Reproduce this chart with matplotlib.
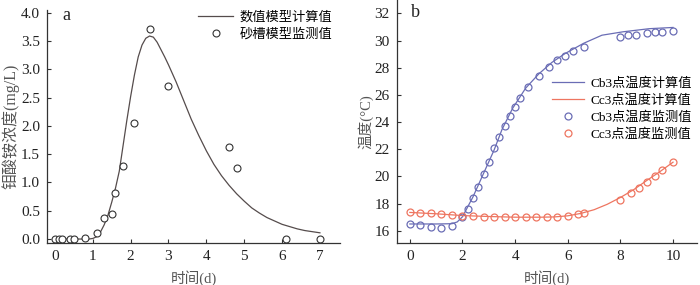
import matplotlib
matplotlib.use("Agg")
import matplotlib.pyplot as plt

plt.rcParams["font.family"] = ["Liberation Serif", "Noto Sans CJK SC"]
plt.rcParams["font.size"] = 11
plt.rcParams["axes.unicode_minus"] = False

# panel a : concentration (mg/L)
time_a_obs = [0, 0.1, 0.2, 0.4, 0.5, 0.8, 1.1, 1.3, 1.5, 1.6, 1.8, 2.1, 2.5, 3.0, 4.6, 4.8, 6.1, 7.0]
conc_obs = [0, 0, 0, 0, 0, 0.01, 0.11, 0.37, 0.45, 0.81, 1.30, 2.05, 3.72, 2.71, 1.62, 1.26, 0.0, 0.0]

time_a_model = [0, 0.5, 0.9, 1.0, 1.1, 1.2, 1.3, 1.4, 1.5, 1.6, 1.7, 1.8, 1.9, 2.0, 2.1, 2.2,
                2.3, 2.4, 2.5, 2.6, 2.7, 2.8, 2.9, 3.0, 3.2, 3.4, 3.6, 3.8, 4.0, 4.2, 4.4,
                4.6, 4.8, 5.0, 5.2, 5.4, 5.6, 5.8, 6.0, 6.2, 6.4, 6.6, 6.8, 7.0]
conc_model = [0, 0, 0, 0.01, 0.04, 0.12, 0.25, 0.42, 0.65, 0.9, 1.2, 1.65, 2.1, 2.52, 2.9, 3.22,
              3.43, 3.55, 3.59, 3.57, 3.48, 3.35, 3.22, 3.08, 2.78, 2.45, 2.12, 1.83, 1.56, 1.32, 1.12,
              0.95, 0.80, 0.67, 0.55, 0.46, 0.38, 0.32, 0.26, 0.22, 0.18, 0.15, 0.13, 0.11]

# panel b : temperature
time_cb3_obs = [0, 0.4, 0.8, 1.2, 1.6, 2.0, 2.2, 2.4, 2.6, 2.8, 3.0, 3.2, 3.4, 3.6, 3.8, 4.0,
                4.2, 4.5, 4.9, 5.3, 5.6, 5.9, 6.2, 6.6, 8.0, 8.3, 8.6, 9.0, 9.3, 9.6, 10.0]
temp_cb3_obs = [16.49, 16.4, 16.3, 16.22, 16.32, 17.03, 17.6, 18.4, 19.24, 20.2, 21.08, 22.06,
                22.9, 23.75, 24.47, 25.13, 25.74, 26.55, 27.39, 28.07, 28.54, 28.9, 29.2, 29.55,
                30.26, 30.38, 30.43, 30.55, 30.6, 30.67, 30.72]

time_cc3_obs = [0, 0.4, 0.8, 1.2, 1.6, 2.0, 2.4, 2.8, 3.2, 3.6, 4.0, 4.4, 4.8, 5.2, 5.6, 6.0,
                6.4, 6.6, 8.0, 8.4, 8.7, 9.0, 9.3, 9.6, 10.0]
temp_cc3_obs = [17.4, 17.33, 17.28, 17.2, 17.15, 17.1, 17.07, 17.05, 17.03, 17.0, 16.98, 16.98,
                16.98, 16.98, 17.0, 17.07, 17.2, 17.28, 18.3, 18.75, 19.14, 19.58, 20.03, 20.47, 21.08]

time_cb3_model = [0, 1.0, 1.6, 1.8, 2.0, 2.4, 2.8, 3.2, 3.5, 3.9, 4.4, 4.9, 5.4, 5.9, 6.6,
                  7.3, 8.1, 9.1, 10.0]
temp_cb3_model = [16.5, 16.5, 16.52, 16.65, 17.03, 18.5, 20.22, 21.94, 23.45, 25.0, 26.5,
                  27.55, 28.4, 29.05, 29.8, 30.4, 30.65, 30.88, 30.97]

time_cc3_model = [0, 1.0, 2.0, 3.0, 4.0, 5.0, 5.5, 6.0, 6.5, 7.0, 7.5, 8.0, 8.5, 9.0, 9.5, 10.0]
temp_cc3_model = [17.35, 17.25, 17.12, 17.05, 17.0, 17.0, 17.02, 17.1, 17.28, 17.55, 17.95, 18.45,
                  19.02, 19.7, 20.35, 21.05]

BLUE = "#6a6db5"
RED = "#ee7560"
DARK = "#554c4c"


def style_axes(ax):
    for side in ["top", "right"]:
        ax.spines[side].set_visible(False)
    for side in ["left", "bottom"]:
        ax.spines[side].set_color("#333333")
        ax.spines[side].set_linewidth(0.9)
    ax.tick_params(direction="in", length=3, width=0.8, colors="#333333",
                   labelcolor="#222222", labelsize=11, pad=5)


fig = plt.figure(figsize=(7, 2.85), dpi=100)
ax1 = fig.add_axes([0.0671, 0.1474, 0.4186, 0.8175])
ax2 = fig.add_axes([0.5667, 0.1474, 0.4286, 0.853])

# panel a
ax1.plot(time_a_model, conc_model, color=DARK, lw=0.9, label="数值模型计算值")
ax1.plot(time_a_obs, conc_obs, "o", ms=5, mfc="white", mec="#333333", mew=0.8, label="砂槽模型监测值")
ax1.set_xlim(-0.21, 7.53)
ax1.set_ylim(-0.07, 4.05)
ax1.set_xticks(range(0, 8))
yticks_a = [0, 0.5, 1.0, 1.5, 2.0, 2.5, 3.0, 3.5, 4.0]
ax1.set_yticks(yticks_a)
ax1.set_yticklabels([f"{v:.1f}" for v in yticks_a])
ax1.set_xlabel("时间(d)", color="#555555", fontsize=10.5)
ax1.set_ylabel("钼酸铵浓度(mg/L)", color="#555555", fontsize=11.5)
ax1.xaxis.set_label_coords(0.5, -0.115)
ax1.yaxis.set_label_coords(-0.093, 0.5)
ax1.text(0.065, 0.978, "a", transform=ax1.transAxes, fontsize=13, ha="center", va="center",
         color="#222222")
style_axes(ax1)
ax1.legend(loc="upper right", bbox_to_anchor=(1.0, 1.03), frameon=False, handlelength=2.6,
           handletextpad=0.5, labelspacing=0.35, borderaxespad=0.2, fontsize=9.5)

# panel b
ax2.plot(time_cb3_model, temp_cb3_model, color=BLUE, lw=0.9, label="Cb3点温度计算值")
ax2.plot(time_cc3_model, temp_cc3_model, color=RED, lw=0.9, label="Cc3点温度计算值")
ax2.plot(time_cb3_obs, temp_cb3_obs, "o", ms=5, mfc="none", mec=BLUE, mew=0.9, label="Cb3点温度监测值")
ax2.plot(time_cc3_obs, temp_cc3_obs, "o", ms=5, mfc="none", mec=RED, mew=0.9, label="Cc3点温度监测值")
ax2.set_xlim(-0.5, 10.9)
ax2.set_ylim(15.1, 33)
ax2.set_xticks(range(0, 11, 2))
ax2.set_yticks(range(16, 33, 2))
ax2.set_xlabel("时间(d)", color="#555555", fontsize=10.5)
ax2.set_ylabel("温度(°C)", color="#555555", fontsize=10.5)
ax2.xaxis.set_label_coords(0.5, -0.112)
ax2.yaxis.set_label_coords(-0.076, 0.5)
ax2.text(0.064, 0.95, "b", transform=ax2.transAxes, fontsize=13, ha="center", va="center",
         color="#222222")
style_axes(ax2)
ax2.legend(loc="upper left", bbox_to_anchor=(0.5, 0.705), frameon=False, handlelength=2.4,
           handletextpad=0.5, labelspacing=0.35, borderaxespad=0.0, fontsize=9.5)

fig.savefig("out.png", dpi=100)
